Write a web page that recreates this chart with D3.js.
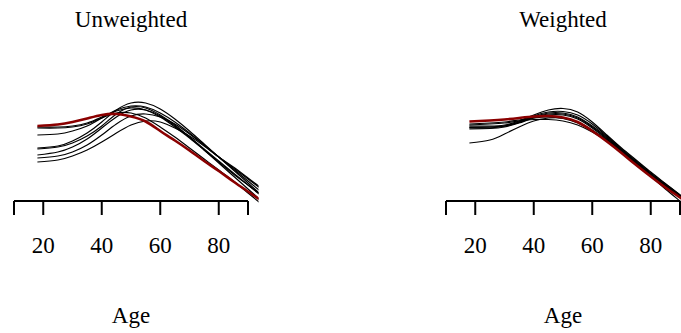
<!DOCTYPE html>
<html lang="en">
<head>
<meta charset="UTF-8">
<title>Age curves</title>
<script src="https://d3js.org/d3.v7.min.js"></script>
<style>
  body { margin: 0; background: #fff; }
</style>
</head>
<body>
<svg id="chart" width="681" height="333"></svg>
<script>
var ages = [18, 25, 30, 35, 40, 45, 50, 55, 60, 65, 70, 75, 80, 85, 90, 95];
var tickValues = [10, 20, 40, 60, 80, 90];
var tickLabels = ["", "20", "40", "60", "80", ""];
var panelTitles = ["Unweighted", "Weighted"];
var serif = "'Liberation Serif', 'Times New Roman', Times, serif";

// relative height of each curve (arbitrary units, no y axis drawn)
var unweightedBlack = [
  [93, 93, 94, 97, 103, 109, 112, 110, 103, 93, 82, 70, 58, 46, 35, 24],
  [92, 92, 93, 96, 102, 107, 107, 102, 93, 83, 72, 61, 50, 39, 27, 15],
  [85, 86, 89, 94, 102, 110, 114, 113, 107, 98, 87, 75, 63, 52, 41, 30],
  [72, 74, 79, 87, 98, 110, 117, 117, 111, 101, 89, 76, 63, 50, 37, 24],
  [65, 68, 73, 81, 92, 103, 110, 110, 104, 94, 83, 71, 59, 47, 35, 23],
  [62, 64, 68, 75, 85, 96, 104, 106, 103, 96, 86, 75, 63, 51, 39, 27],
  [58, 60, 64, 70, 78, 87, 95, 99, 98, 92, 84, 74, 63, 53, 42, 31],
  [71, 73, 77, 84, 94, 106, 113, 112, 105, 95, 83, 70, 57, 44, 31, 18]
];
var unweightedRed = [94, 95.5, 98, 101.5, 105, 106, 103.5, 98.5, 89, 79.5, 69.5, 59, 49, 38.5, 28.5, 18.5];

var weightedBlack = [
  [94, 94, 95, 99, 105, 110, 111.5, 108, 98, 85, 72, 60, 48, 36.5, 25, 14],
  [93, 93, 94, 98, 104, 108, 108.5, 105, 96, 84, 71, 59, 47, 36, 25, 14],
  [92, 92, 94, 98, 103, 106, 106, 102, 93, 82, 70, 58, 46, 35, 24.5, 14],
  [91, 91.5, 93, 97, 102, 105, 105, 101, 92, 81, 69, 57, 45, 34, 24, 13],
  [77, 80, 86, 93, 99, 102, 102, 98, 90, 80, 69, 57, 45.5, 34.5, 24, 14],
  [95, 96, 97, 99, 100.5, 100.5, 99, 95, 88, 79, 68, 56, 45, 34, 24, 14],
  [96, 97, 98, 100, 102, 103, 101.5, 97, 89, 80, 69, 57, 45, 34, 23, 12],
  [92.5, 93, 94, 97.5, 103, 107, 107, 103, 94, 83, 70, 57, 44, 31, 19, 7]
];
var weightedRed = [98.5, 99.5, 100.5, 102, 103.5, 104, 102.5, 98, 89, 78.5, 67, 55, 43.5, 32.5, 22.5, 12.5];

var panels = [
  { title: panelTitles[0], black: unweightedBlack, red: unweightedRed, dx: 0 },
  { title: panelTitles[1], black: weightedBlack, red: weightedRed, dx: 432 }
];

var svg = d3.select("#chart");
var y = d3.scaleLinear().domain([0, 120]).range([220, 100]);

panels.forEach(function (p, i) {
  var x = d3.scaleLinear().domain([10, 90]).range([14 + p.dx, 248 + p.dx]);
  var g = svg.append("g");

  g.append("clipPath").attr("id", "clip" + i)
    .append("rect")
    .attr("x", x(6.6)).attr("y", 0)
    .attr("width", x(93.6) - x(6.6)).attr("height", 333);

  var line = d3.line()
    .x(function (d, j) { return x(ages[j]); })
    .y(function (d) { return y(d); })
    .curve(d3.curveNatural);

  var curves = g.append("g").attr("clip-path", "url(#clip" + i + ")");
  curves.selectAll("path.black")
    .data(p.black)
    .join("path")
    .attr("class", "black")
    .attr("d", line)
    .attr("fill", "none")
    .attr("stroke", "#000")
    .attr("stroke-width", 1.2);

  curves.append("path")
    .attr("d", line(p.red))
    .attr("fill", "none")
    .attr("stroke", "#8b0000")
    .attr("stroke-width", 2.6);

  // R style bottom axis
  var axis = g.append("g").attr("transform", "translate(0,201)");
  axis.append("line")
    .attr("x1", x(10)).attr("x2", x(90))
    .attr("stroke", "#000").attr("stroke-width", 2);
  axis.selectAll("line.tick")
    .data(tickValues)
    .join("line")
    .attr("class", "tick")
    .attr("x1", function (d) { return x(d); })
    .attr("x2", function (d) { return x(d); })
    .attr("y1", 0).attr("y2", 14)
    .attr("stroke", "#000").attr("stroke-width", 2);
  axis.selectAll("text")
    .data(tickValues)
    .join("text")
    .attr("x", function (d) { return x(d); })
    .attr("y", 52)
    .attr("text-anchor", "middle")
    .attr("font-family", serif)
    .attr("font-size", 23)
    .text(function (d, j) { return tickLabels[j]; });

  var mid = (x(10) + x(90)) / 2;
  g.append("text")
    .attr("x", mid).attr("y", 27)
    .attr("text-anchor", "middle")
    .attr("font-family", serif)
    .attr("font-size", 23)
    .text(p.title);
  g.append("text")
    .attr("x", mid).attr("y", 323)
    .attr("text-anchor", "middle")
    .attr("font-family", serif)
    .attr("font-size", 23)
    .text("Age");
});
</script>
</body>
</html>
